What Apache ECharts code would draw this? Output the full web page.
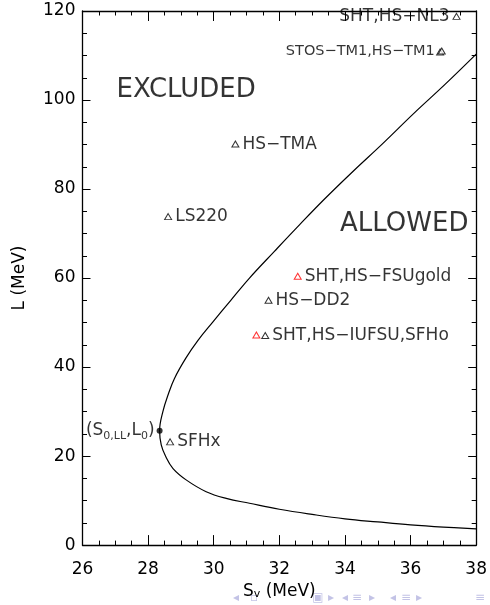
<!DOCTYPE html>
<html>
<head>
<meta charset="utf-8">
<script src="https://cdn.jsdelivr.net/npm/echarts@6/dist/echarts.min.js"></script>
<style>
  html, body { margin: 0; padding: 0; background: #ffffff; }
  #chart { width: 490px; height: 605px; }
</style>
</head>
<body>
<div id="chart"></div>
<script>
// Unitary-gas bound: boundary of the allowed region in the (S_v, L) plane
const boundaryL  = [3.66, 4.05, 4.55, 5.2, 5.9, 6.9, 8.06, 9.4, 10.5, 12.0, 14.6, 17.2, 20.0, 22.5, 25.7,
                    30.0, 34.0, 37.4, 42.0, 46.0, 50.1, 55.0, 60.0, 66.0, 72.0, 77.7, 84.0, 90.2, 97.0, 103.5, 110.3];
const boundarySv = [38.0, 37.0, 36.0, 35.0, 34.0, 33.0, 32.0, 31.09, 30.38, 29.77, 29.17, 28.76, 28.53, 28.40, 28.35,
                    28.45, 28.62, 28.80, 29.15, 29.52, 29.97, 30.52, 31.09, 31.85, 32.62, 33.37, 34.25, 35.15, 36.1, 37.05, 38.0];

// Nuclear equation-of-state models
const eosNames = ['NL3', 'STOS-TM1', 'HS-TM1', 'HS-TMA', 'LS220', 'FSUgold', 'HS-DD2', 'IUFSU', 'SFHo', 'SFHx'];
const eosSv    = [37.4, 36.9, 36.95, 30.66, 28.61, 32.56, 31.67, 31.3, 31.57, 28.67];
const eosL     = [118.8, 110.8, 111.0, 90.1, 73.8, 60.4, 55.0, 47.2, 47.1, 23.2];
const eosTags  = ['SHT,HS\u2212NL3', '', 'STOS\u2212TM1,HS\u2212TM1', 'HS\u2212TMA', 'LS220',
                  'SHT,HS\u2212FSUgold', 'HS\u2212DD2', '', 'SHT,HS\u2212IUFSU,SFHo', 'SFHx'];
const redModels = ['FSUgold', 'IUFSU'];

// Unitary-gas reference point (S_0,LL, L_0)
const refSv = [28.35];
const refL  = [25.7];

// Axis ticks
const xTicks = [26, 28, 30, 32, 34, 36, 38];
const yTicks = [0, 20, 40, 60, 80, 100, 120];

// Region captions and where their left edges sit
const regionNames = ['EXCLUDED', 'ALLOWED'];
const regionAnchors = [[27.04, 102.3], [33.85, 72.1]];

const FONT = 'DejaVu Sans';
const INK = '#000000';

const boundary = boundaryL.map((l, i) => [boundarySv[i], l]);

const models = eosNames.map((name, i) => {
  const red = redModels.indexOf(name) >= 0;
  const leftSide = eosL[i] > 105;
  return {
    name: name,
    value: [eosSv[i], eosL[i]],
    itemStyle: { color: '#ffffff', borderColor: red ? '#ff0000' : INK, borderWidth: 1 },
    label: {
      show: eosTags[i] !== '',
      formatter: eosTags[i],
      position: leftSide ? 'left' : 'right',
      distance: 3,
      fontSize: (name === 'HS-TM1') ? 14.5 : 17
    }
  };
});

function makeX(pos, labels) {
  return {
    type: 'value', position: pos, min: xTicks[0], max: xTicks[xTicks.length - 1],
    interval: xTicks[1] - xTicks[0],
    axisLine: { show: true, onZero: false, lineStyle: { color: INK, width: 1.3 } },
    axisTick: { show: true, inside: true, length: 10, lineStyle: { color: INK, width: 1 } },
    minorTick: { show: true, splitNumber: 4, length: 4.5, lineStyle: { color: INK, width: 1 } },
    splitLine: { show: false },
    axisLabel: { show: labels, margin: 16, fontSize: 17, fontFamily: FONT, color: INK },
    name: labels ? 'S{s|v} (MeV)' : '',
    nameLocation: 'middle', nameGap: 36,
    nameTextStyle: {
      fontSize: 17, fontFamily: FONT, color: INK,
      rich: { s: { fontSize: 11, fontFamily: FONT, color: INK, verticalAlign: 'bottom', lineHeight: 10 } }
    }
  };
}
function makeY(pos, labels) {
  return {
    type: 'value', position: pos, min: yTicks[0], max: yTicks[yTicks.length - 1],
    interval: yTicks[1] - yTicks[0],
    axisLine: { show: true, onZero: false, lineStyle: { color: INK, width: 1.3 } },
    axisTick: { show: true, inside: true, length: 8, lineStyle: { color: INK, width: 1 } },
    minorTick: { show: true, splitNumber: 4, length: 4.5, lineStyle: { color: INK, width: 1 } },
    splitLine: { show: false },
    axisLabel: { show: labels, margin: 7, fontSize: 17, fontFamily: FONT, color: INK },
    name: labels ? 'L (MeV)' : '',
    nameLocation: 'middle', nameGap: 54, nameRotate: 90,
    nameTextStyle: { fontSize: 17, fontFamily: FONT, color: INK }
  };
}

// Beamer navigation glyphs along the bottom edge
const navGlyphs = ['\u25C2', '\u25AB', '\u25A3', '\u25B8', '\u25C2', '\u2261', '\u25B8', '\u25C2', '\u2261', '\u25B8', '\u2261'];
const navX = [236, 254, 318, 331, 345, 357, 372, 393, 406, 419, 480];

const chart = echarts.init(document.getElementById('chart'), null, { renderer: 'canvas' });
chart.setOption({
  backgroundColor: '#ffffff',
  animation: false,
  grid: { left: 82.5, right: 12.5, top: 11, bottom: 58 },
  xAxis: [makeX('bottom', true), makeX('top', false)],
  yAxis: [makeY('left', true), makeY('right', false)],
  graphic: navGlyphs.map((g, i) => ({
    type: 'text', x: navX[i], y: 598, z: 0,
    style: { text: g, fill: '#c3c3e6', fontSize: 12, fontFamily: FONT, align: 'center', verticalAlign: 'middle' }
  })),
  series: [
    {
      type: 'line', data: boundary, smooth: 0.4, showSymbol: false, symbol: 'none',
      lineStyle: { color: INK, width: 1.2 }, z: 2
    },
    {
      type: 'scatter', data: models, symbol: 'triangle', symbolSize: [7, 6], z: 3,
      label: { color: INK, fontFamily: FONT, fontSize: 17 }
    },
    {
      type: 'scatter', data: refSv.map((s, i) => [s, refL[i]]), symbol: 'circle', symbolSize: 6, z: 4,
      itemStyle: { color: INK },
      label: {
        show: true, position: 'left', distance: 2,
        formatter: '{n|(S}{s|0,LL}{n|,L}{s|0}{n|)}',
        rich: {
          n: { fontSize: 17, fontFamily: FONT, color: INK, lineHeight: 22 },
          s: { fontSize: 11, fontFamily: FONT, color: INK, lineHeight: 12, verticalAlign: 'bottom' }
        }
      }
    },
    {
      type: 'scatter', symbolSize: 0, z: 3,
      data: regionNames.map((n, i) => ({ name: n, value: regionAnchors[i] })),
      label: { show: true, position: 'right', distance: 0, formatter: '{b}', fontSize: 26, fontFamily: FONT, color: INK }
    }
  ]
});
</script>
</body>
</html>
